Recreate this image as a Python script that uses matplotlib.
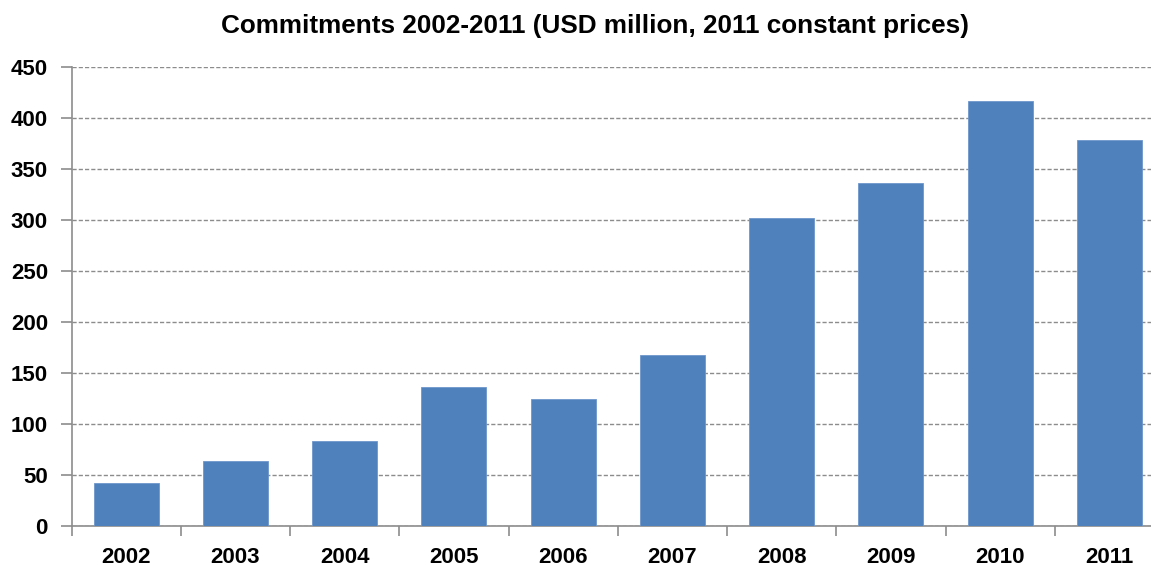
import matplotlib
matplotlib.use("Agg")
import matplotlib.pyplot as plt

years = ["2002", "2003", "2004", "2005", "2006", "2007", "2008", "2009", "2010", "2011"]
values = [42, 64, 83.5, 136.5, 124.5, 168, 302, 336.5, 416, 378]
yticks = [0, 50, 100, 150, 200, 250, 300, 350, 400, 450]

plt.rcParams['font.family'] = ['Liberation Sans', 'DejaVu Sans']
fig = plt.figure(figsize=(11.51, 5.68), dpi=100)
ax = fig.add_axes([71.5/1151, 1-526.3/568, (1164-71.5)/1151, (526.3-66.7)/568])

x = list(range(len(years)))
ax.bar(x, values, width=0.595, color="#4F81BD", edgecolor="#6F97CC", linewidth=0.6, zorder=3)
ax.set_xlim(-0.5, len(years)-0.5)
ax.set_ylim(0, 450)
ax.set_yticks(yticks)
ax.set_yticklabels([str(t) for t in yticks], fontsize=16, fontweight='bold')
ax.set_xticks(x)
ax.set_xticklabels(years, fontsize=16, fontweight='bold')
ax.set_xticks([i - 0.5 for i in range(len(years)+1)], minor=True)
ax.tick_params(axis='x', which='major', length=0, pad=15)
ax.tick_params(axis='x', which='minor', length=7, color='#8c8c8c', width=1.2)
ax.tick_params(axis='y', length=8, color='#8c8c8c', width=1.2, pad=9)
ax.grid(axis='y', linestyle=(0, (3, 1.5)), color='#8c8c8c', linewidth=1.0, zorder=0)
for s in ['top', 'right']:
    ax.spines[s].set_visible(False)
for s in ['left', 'bottom']:
    ax.spines[s].set_color('#8c8c8c')
    ax.spines[s].set_linewidth(1.2)
fig.text(595/1151, 1-26/568, "Commitments 2002-2011 (USD million, 2011 constant prices)",
         ha='center', va='center', fontsize=18.8, fontweight='bold')
fig.savefig("out.png", dpi=100)
